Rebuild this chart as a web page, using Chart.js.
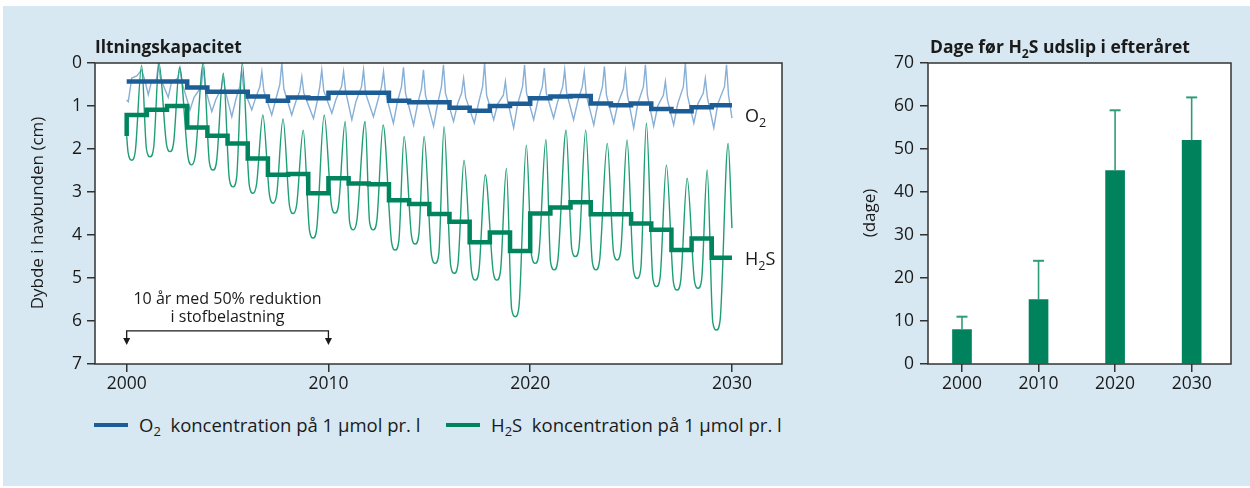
<!DOCTYPE html>
<html><head><meta charset="utf-8">
<script src="https://cdn.jsdelivr.net/npm/chart.js@4.4.1/dist/chart.umd.min.js"></script>
<style>
html,body{margin:0;padding:0;background:#fff;}
body{width:1250px;height:488px;position:relative;overflow:hidden;font-family:"Open Sans",sans-serif;color:#1a1a1a;}
#panel{position:absolute;left:3px;top:6px;width:1247px;height:480px;background:#d7e8f2;}
#c1{position:absolute;left:0;top:0;}
#c2{position:absolute;left:800px;top:0;}
.sw{position:absolute;height:4px;width:34px;top:423px;}
.lt{position:absolute;top:415px;font-size:18.5px;line-height:20px;white-space:nowrap;}
.sb{font-size:70%;position:relative;top:0.3em;}
</style></head>
<body>
<div id="panel"></div>
<canvas id="c1" width="800" height="400"></canvas>
<canvas id="c2" width="450" height="400"></canvas>
<div class="sw" style="left:94px;background:#1c5d96"></div>
<div class="lt" style="left:139px">O<span class="sb">2</span>&nbsp; koncentration på 1 µmol pr. l</div>
<div class="sw" style="left:446px;background:#00845e"></div>
<div class="lt" style="left:491px">H<span class="sb">2</span>S&nbsp; koncentration på 1 µmol pr. l</div>
<script>
// ---------- data ----------
const xTicks = [2000, 2010, 2020, 2030];
const depthTicks = [0, 1, 2, 3, 4, 5, 6, 7];
const dayTicks = [0, 10, 20, 30, 40, 50, 60, 70];

const stepYears = [2000,2001,2002,2003,2004,2005,2006,2007,2008,2009,2010,2011,2012,2013,2014,2015,2016,2017,2018,2019,2020,2021,2022,2023,2024,2025,2026,2027,2028,2029,2030];
const o2Annual = [0.43,0.43,0.43,0.57,0.67,0.67,0.78,0.88,0.80,0.82,0.69,0.69,0.69,0.88,0.91,0.91,1.04,1.11,1.00,0.95,0.82,0.78,0.77,0.94,0.98,0.94,1.07,1.12,1.03,0.98,0.98];
const h2sAnnual = [1.21,1.09,1.00,1.50,1.69,1.87,2.22,2.60,2.58,3.03,2.68,2.80,2.82,3.19,3.28,3.51,3.69,4.17,3.94,4.37,3.50,3.36,3.24,3.52,3.52,3.73,3.88,4.35,4.08,4.53,4.53];
const h2sStepStart = 1.70;

const h2sThinT = [2000.00, 2000.07,2000.25,2000.43,2000.74, 2000.98,2001.16,2001.34,2001.60, 2001.97,2002.15,2002.33,2002.62, 2003.04,2003.22,2003.40,2003.80, 2004.10,2004.28,2004.46,2004.79, 2005.09,2005.27,2005.45,2005.73, 2006.08,2006.26,2006.44,2006.75, 2007.08,2007.26,2007.44,2007.75, 2008.07,2008.25,2008.43,2008.75, 2009.06,2009.24,2009.42,2009.79, 2010.15,2010.33,2010.51,2010.83, 2011.05,2011.23,2011.41,2011.82, 2012.04,2012.22,2012.40,2012.71, 2013.13,2013.31,2013.49,2013.75, 2014.12,2014.30,2014.48,2014.74, 2015.11,2015.29,2015.47,2015.73, 2016.06,2016.24,2016.42,2016.72, 2017.10,2017.28,2017.46,2017.77, 2018.17,2018.35,2018.53,2018.82, 2019.08,2019.26,2019.44,2019.81, 2020.07,2020.25,2020.43,2020.78, 2021.01,2021.19,2021.37,2021.78, 2022.06,2022.24,2022.42,2022.75, 2023.08,2023.26,2023.44,2023.82, 2024.13,2024.31,2024.49,2024.80, 2025.12,2025.30,2025.48,2025.76, 2026.08,2026.26,2026.44,2026.75, 2027.10,2027.28,2027.46,2027.78, 2028.14,2028.32,2028.50,2028.77, 2029.05,2029.23,2029.41,2029.81, 2030.00];
const h2sThinD = [1.70, 2.08,2.26,2.04,0.05, 2.00,2.18,1.96,0.00, 1.88,2.06,1.84,0.10, 2.19,2.37,2.15,0.00, 2.31,2.49,2.27,0.24, 2.70,2.88,2.66,0.00, 2.85,3.03,2.81,1.21, 3.08,3.26,3.04,1.30, 3.32,3.50,3.28,1.56, 3.89,4.07,3.85,1.21, 3.31,3.49,3.27,1.36, 3.70,3.88,3.66,1.36, 3.70,3.88,3.66,1.44, 4.17,4.35,4.13,1.71, 4.03,4.21,3.99,1.71, 4.48,4.66,4.44,1.48, 4.71,4.89,4.67,2.26, 4.87,5.05,4.83,2.60, 4.87,5.05,4.83,2.45, 5.72,5.90,5.68,1.91, 4.48,4.66,4.44,1.78, 4.63,4.81,4.59,1.56, 4.32,4.50,4.28,1.56, 4.63,4.81,4.59,1.87, 4.40,4.58,4.36,1.79, 4.83,5.01,4.79,1.40, 5.02,5.20,4.98,2.37, 5.10,5.28,5.06,2.68, 5.06,5.24,5.02,2.49, 6.03,6.21,5.99,1.87, 3.84];

const o2ThinT = [2000.00, 2000.08, 2000.25,2000.50,2000.74,2000.90, 2001.07, 2001.22,2001.47,2001.57,2001.67, 2002.06, 2002.22,2002.54,2002.64,2002.74, 2003.14, 2003.34,2003.70,2003.80,2003.90, 2004.22, 2004.42,2004.69,2004.79,2004.89, 2005.21, 2005.41,2005.60,2005.70,2005.80, 2006.20, 2006.40,2006.60,2006.70,2006.80, 2007.19, 2007.39,2007.59,2007.69,2007.79, 2008.18, 2008.38,2008.58,2008.68,2008.78, 2009.26, 2009.44,2009.57,2009.67,2009.77, 2010.17, 2010.37,2010.65,2010.75,2010.85, 2011.16, 2011.36,2011.64,2011.74,2011.84, 2012.23, 2012.43,2012.63,2012.73,2012.83, 2013.22, 2013.42,2013.62,2013.72,2013.82, 2014.22, 2014.42,2014.61,2014.71,2014.81, 2015.21, 2015.41,2015.60,2015.70,2015.80, 2016.20, 2016.40,2016.60,2016.70,2016.80, 2017.23, 2017.43,2017.64,2017.74,2017.84, 2018.19, 2018.39,2018.67,2018.77,2018.87, 2019.18, 2019.38,2019.62,2019.72,2019.82, 2020.17, 2020.37,2020.60,2020.70,2020.80, 2021.16, 2021.36,2021.61,2021.71,2021.81, 2022.15, 2022.35,2022.58,2022.68,2022.78, 2023.15, 2023.35,2023.58,2023.68,2023.78, 2024.14, 2024.34,2024.62,2024.72,2024.82, 2025.13, 2025.33,2025.61,2025.71,2025.81, 2026.12, 2026.32,2026.60,2026.70,2026.80, 2027.11, 2027.31,2027.59,2027.69,2027.79, 2028.11, 2028.31,2028.58,2028.68,2028.78, 2029.10, 2029.30,2029.63,2029.73,2029.83, 2030.00];
const o2ThinD = [0.86, 0.90, 0.35,0.30,0.16,0.40, 0.74, 0.45,0.40,0.03,0.35, 0.80, 0.45,0.35,0.12,0.45, 1.09, 0.80,0.55,0.09,0.60, 1.13, 0.85,0.60,0.32,0.65, 1.25, 0.85,0.55,0.16,0.60, 1.09, 0.80,0.55,0.20,0.65, 1.21, 0.85,0.50,0.00,0.60, 1.21, 0.90,0.65,0.32,0.70, 1.29, 0.90,0.55,0.16,0.65, 1.17, 0.85,0.55,0.20,0.65, 1.32, 0.90,0.55,0.16,0.70, 1.25, 0.90,0.55,0.20,0.70, 1.40, 0.90,0.55,0.10,0.70, 1.44, 0.95,0.60,0.16,0.75, 1.47, 0.95,0.55,0.04,0.70, 1.36, 0.95,0.70,0.36,0.80, 1.40, 0.95,0.55,0.00,0.75, 1.32, 0.95,0.75,0.43,0.85, 1.51, 0.95,0.55,0.05,0.70, 1.32, 0.90,0.55,0.12,0.70, 1.28, 0.90,0.55,0.16,0.70, 1.32, 0.90,0.55,0.20,0.75, 1.44, 0.95,0.55,0.08,0.75, 1.40, 0.95,0.60,0.20,0.75, 1.51, 0.95,0.55,0.04,0.75, 1.47, 1.00,0.75,0.43,0.85, 1.44, 0.95,0.55,0.00,0.75, 1.40, 0.95,0.70,0.36,0.80, 1.51, 0.95,0.55,0.04,0.75, 1.28];

const barYears = [2000, 2010, 2020, 2030];
const barDays = [8, 15, 45, 52];
const barErrUpper = [11, 24, 59, 62];

// ---------- helpers ----------
const FAM = '"Open Sans", sans-serif';
const INK = '#1a1a1a';
function drawRich(ctx, parts, x, y, size, bold, align) {
  const w = bold ? 'bold ' : '';
  let total = 0; const ms = [];
  parts.forEach(p => { const s = p.sub ? size * 0.7 : size; ctx.font = w + s + 'px ' + FAM; const m = ctx.measureText(p.t).width; ms.push(m); total += m; });
  let cx = align === 'center' ? x - total / 2 : (align === 'right' ? x - total : x);
  ctx.textAlign = 'left'; ctx.textBaseline = 'alphabetic'; ctx.fillStyle = INK;
  parts.forEach((p, i) => { const s = p.sub ? size * 0.7 : size; ctx.font = w + s + 'px ' + FAM; ctx.fillText(p.t, cx, y + (p.sub ? size * 0.3 : 0)); cx += ms[i]; });
}
const framePlugin = {
  id: 'frame',
  beforeDraw(chart) {
    const a = chart.chartArea, ctx = chart.ctx;
    ctx.save(); ctx.fillStyle = '#ffffff'; ctx.fillRect(a.left, a.top, a.right - a.left, a.bottom - a.top); ctx.restore();
  },
  afterDraw(chart) {
    const a = chart.chartArea, ctx = chart.ctx;
    ctx.save(); ctx.strokeStyle = '#333'; ctx.lineWidth = 1.5;
    ctx.strokeRect(a.left, a.top, a.right - a.left, a.bottom - a.top); ctx.restore();
  }
};
function axisOpts(extra) {
  return Object.assign({
    type: 'linear',
    border: { display: false },
    grid: { drawOnChartArea: false, drawTicks: true, tickLength: 8, color: '#333', lineWidth: 1.5 },
    ticks: { color: INK, font: { family: FAM, size: 17.5 }, callback: v => String(v) }
  }, extra);
}

// ---------- left chart ----------
const leftText = {
  id: 'leftText',
  afterDraw(chart) {
    const ctx = chart.ctx, xs = chart.scales.x, ys = chart.scales.y;
    ctx.save();
    drawRich(ctx, [{ t: 'Iltningskapacitet' }], 95, 53, 17.3, true, 'left');
    ctx.save(); ctx.translate(38, 213); ctx.rotate(-Math.PI / 2);
    ctx.font = '17px ' + FAM; ctx.fillStyle = INK; ctx.textAlign = 'center'; ctx.textBaseline = 'middle';
    ctx.fillText('Dybde i havbunden (cm)', 0, 0); ctx.restore();
    drawRich(ctx, [{ t: 'O' }, { t: '2', sub: true }], 745, 122, 18, false, 'left');
    drawRich(ctx, [{ t: 'H' }, { t: '2', sub: true }, { t: 'S' }], 745, 265, 18, false, 'left');
    const x0 = xs.getPixelForValue(2000), x1 = xs.getPixelForValue(2010);
    const yl = ys.getPixelForValue(6.23), yt = ys.getPixelForValue(6.56);
    ctx.strokeStyle = INK; ctx.lineWidth = 1.3; ctx.fillStyle = INK;
    ctx.beginPath(); ctx.moveTo(x0, yt - 6); ctx.lineTo(x0, yl); ctx.lineTo(x1, yl); ctx.lineTo(x1, yt - 6); ctx.stroke();
    [x0, x1].forEach(xx => { ctx.beginPath(); ctx.moveTo(xx - 3.5, yt - 7); ctx.lineTo(xx + 3.5, yt - 7); ctx.lineTo(xx, yt); ctx.closePath(); ctx.fill(); });
    ctx.font = '16px ' + FAM; ctx.textAlign = 'center'; ctx.textBaseline = 'alphabetic';
    ctx.fillText('10 år med 50% reduktion', (x0 + x1) / 2, 304);
    ctx.fillText('i stofbelastning', (x0 + x1) / 2, 322);
    ctx.restore();
  }
};

new Chart(document.getElementById('c1'), {
  type: 'line',
  data: {
    datasets: [
      { label: 'O2 år', data: stepYears.map((t, i) => ({ x: t, y: o2Annual[i] })), stepped: 'before', borderColor: '#1c5d96', borderWidth: 4.5, pointRadius: 0, borderJoinStyle: 'miter', borderCapStyle: 'butt', fill: false },
      { label: 'H2S år', data: [{ x: stepYears[0], y: h2sStepStart }].concat(stepYears.map((t, i) => ({ x: t, y: h2sAnnual[i] }))), stepped: 'before', borderColor: '#00845e', borderWidth: 4.5, pointRadius: 0, borderJoinStyle: 'miter', borderCapStyle: 'butt', fill: false },
      { label: 'H2S', data: h2sThinT.map((t, i) => ({ x: t, y: h2sThinD[i] })), borderColor: '#1f9e76', borderWidth: 1.4, pointRadius: 0, cubicInterpolationMode: 'monotone', fill: false },
      { label: 'O2', data: o2ThinT.map((t, i) => ({ x: t, y: o2ThinD[i] })), borderColor: '#88afd5', borderWidth: 1.4, pointRadius: 0, tension: 0, fill: false }
    ]
  },
  options: {
    responsive: false, animation: false, devicePixelRatio: 1,
    layout: { padding: { left: 50, right: 18, top: 63, bottom: 0 } },
    plugins: { legend: { display: false }, tooltip: { enabled: false } },
    scales: {
      x: axisOpts({ min: 1998.43, max: 2032.48, afterBuildTicks: s => { s.ticks = xTicks.map(v => ({ value: v })); }, afterFit: s => { s.height = 36; }, ticks: { color: INK, font: { family: FAM, size: 17.5 }, padding: 2, maxRotation: 0, callback: v => String(v) } }),
      y: axisOpts({ reverse: true, min: 0, max: 7, afterBuildTicks: s => { s.ticks = depthTicks.map(v => ({ value: v })); }, afterFit: s => { s.width = 45; }, ticks: { color: INK, font: { family: FAM, size: 17.5 }, padding: 5, callback: v => String(v) } })
    }
  },
  plugins: [framePlugin, leftText]
});

// ---------- right chart ----------
const rightText = {
  id: 'rightText',
  afterDatasetsDraw(chart) {
    const ctx = chart.ctx, xs = chart.scales.x, ys = chart.scales.y;
    ctx.save(); ctx.strokeStyle = '#2f9c78';
    barYears.forEach((yr, i) => {
      const x = xs.getPixelForValue(yr), y0 = ys.getPixelForValue(barDays[i]), y1 = ys.getPixelForValue(barErrUpper[i]);
      ctx.lineWidth = 1.6; ctx.beginPath(); ctx.moveTo(x, y0); ctx.lineTo(x, y1); ctx.stroke();
      ctx.lineWidth = 2; ctx.beginPath(); ctx.moveTo(x - 5.5, y1); ctx.lineTo(x + 5.5, y1); ctx.stroke();
    });
    ctx.restore();
  },
  afterDraw(chart) {
    const ctx = chart.ctx;
    ctx.save();
    drawRich(ctx, [{ t: 'Dage før H' }, { t: '2', sub: true }, { t: 'S udslip i efteråret' }], 130, 53, 17.5, true, 'left');
    ctx.translate(70, 213); ctx.rotate(-Math.PI / 2);
    ctx.font = '17px ' + FAM; ctx.fillStyle = INK; ctx.textAlign = 'center'; ctx.textBaseline = 'middle';
    ctx.fillText('(dage)', 0, 0);
    ctx.restore();
  }
};

new Chart(document.getElementById('c2'), {
  type: 'bar',
  data: { datasets: [{ label: 'Dage', data: barYears.map((x, i) => ({ x: x, y: barDays[i] })), backgroundColor: '#00825c', barThickness: 19, borderWidth: 0 }] },
  options: {
    responsive: false, animation: false, devicePixelRatio: 1,
    layout: { padding: { left: 83, right: 19, top: 63, bottom: 0 } },
    plugins: { legend: { display: false }, tooltip: { enabled: false } },
    scales: {
      x: axisOpts({ offset: false, min: 1995.56, max: 2035.14, grid: { offset: false, drawOnChartArea: false, drawTicks: true, tickLength: 8, color: '#333', lineWidth: 1.5 }, afterBuildTicks: s => { s.ticks = xTicks.map(v => ({ value: v })); }, afterFit: s => { s.height = 36; }, ticks: { color: INK, font: { family: FAM, size: 17.5 }, padding: 2, maxRotation: 0, callback: v => String(v) } }),
      y: axisOpts({ min: 0, max: 70, afterBuildTicks: s => { s.ticks = dayTicks.map(v => ({ value: v })); }, afterFit: s => { s.width = 45; }, ticks: { color: INK, font: { family: FAM, size: 17.5 }, padding: 6, callback: v => String(v) } })
    }
  },
  plugins: [framePlugin, rightText]
});
</script>
</body></html>
